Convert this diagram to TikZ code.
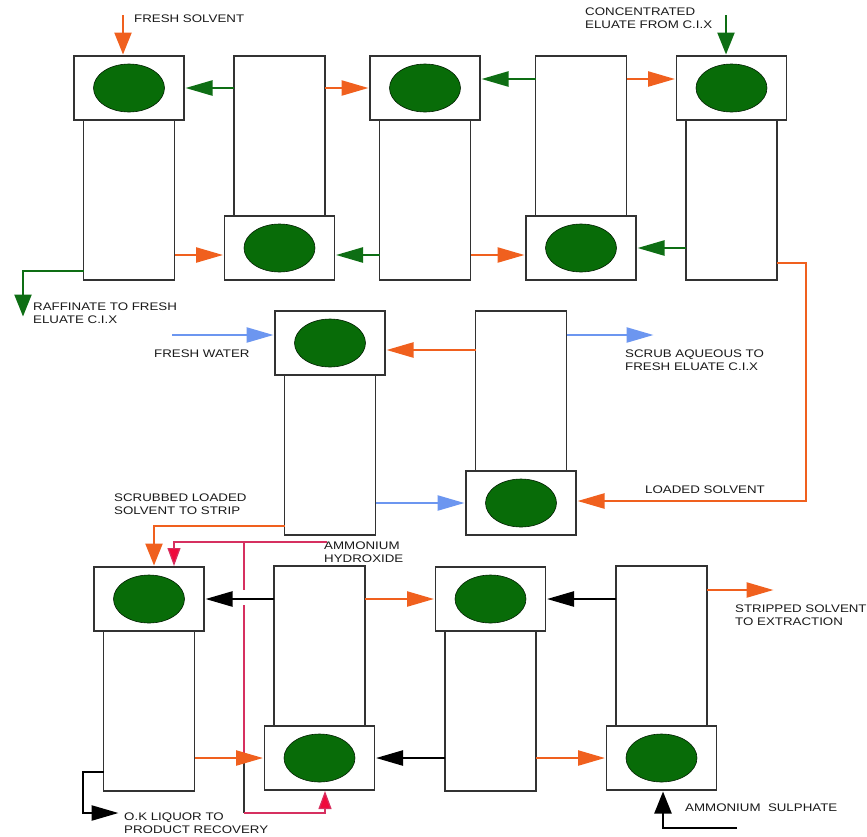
\documentclass[tikz,border=0pt]{standalone}
\usepackage{fontspec}
\setmainfont[FakeStretch=1.21]{Liberation Sans}
\usetikzlibrary{calc,arrows.meta,shapes.geometric}
\definecolor{dropgreen}{RGB}{8,108,8}
\definecolor{flowgreen}{RGB}{14,110,20}
\definecolor{floworange}{RGB}{240,96,30}
\definecolor{flowblue}{RGB}{108,150,240}
\definecolor{flowred}{RGB}{240,10,60}
\definecolor{linered}{RGB}{214,48,96}
\definecolor{boxline}{RGB}{50,50,50}
\tikzset{
  mixbox/.style={draw=boxline,fill=white,line width=1.2pt,minimum width=110pt,minimum height=64pt,inner sep=0pt,outer sep=0pt},
  settlerbox/.style={draw=boxline,fill=white,line width=1.2pt,minimum width=91pt,minimum height=160pt,inner sep=0pt,outer sep=0pt},
  dropnode/.style={ellipse,draw=black!70!dropgreen,fill=dropgreen,line width=0.6pt,minimum width=71pt,minimum height=48pt,inner sep=0pt},
  flow/.style={line width=2.4pt,-{Triangle[length=27pt,width=15pt]},shorten >=1.5pt},
  downflow/.style={line width=2.4pt,-{Triangle[length=22pt,width=17pt]},shorten >=1.5pt},
  greenflow/.style={flow,draw=flowgreen},
  orangeflow/.style={flow,draw=floworange},
  blueflow/.style={flow,draw=flowblue},
  blackflow/.style={flow,draw=black},
  redline/.style={line width=1.2pt,draw=linered},
  redflow/.style={redline,-{Triangle[length=18pt,width=13pt,fill=flowred]},shorten >=1pt},
  streamlabel/.style={anchor=west,align=left,inner sep=0pt,text=black!90,font=\fontsize{11}{13}\selectfont},
}
% mixer on top of its settler
\newcommand\DrawTopUnit[3]{
  \node[settlerbox,anchor=north] (set#1) at (#2,#3+32) {};
  \node[mixbox] (mix#1) at (#2,#3) {};
  \node[dropnode] (drop#1) at (mix#1) {};
}
% mixer below its settler
\newcommand\DrawBottomUnit[3]{
  \node[settlerbox,anchor=south] (set#1) at (#2,#3-32) {};
  \node[mixbox] (mix#1) at (#2,#3) {};
  \node[dropnode] (drop#1) at (mix#1) {};
}
\begin{document}
\begin{tikzpicture}[x=1pt,y=-1pt]
	\useasboundingbox (0,0) rectangle (867,836);

	% the units
	\DrawTopUnit{1}{129}{88}
	\DrawBottomUnit{2}{279.5}{248}
	\DrawTopUnit{3}{425}{88}
	\DrawBottomUnit{4}{581}{248}
	\DrawTopUnit{5}{731.5}{88}
	\DrawTopUnit{6}{330}{343}
	\DrawBottomUnit{7}{521}{503}
	\DrawTopUnit{8}{149}{599}
	\DrawBottomUnit{9}{319.5}{758}
	\DrawTopUnit{10}{490.5}{599}
	\DrawBottomUnit{11}{661.5}{758}

	% free ends of the streams
	\coordinate (solventin) at (123,15);
	\coordinate (eluatein) at (726,15);
	\coordinate (raffinatebend) at (23,271);
	\coordinate (raffinateout) at (23,318);
	\coordinate (loadedtop) at (806,263);
	\coordinate (loadedbottom) at (806,501);
	\coordinate (waterin) at (172,335);
	\coordinate (scrubout) at (655,335);
	\coordinate (scrubbedbend) at (154,526);
	\coordinate (strippedout) at (775,590);
	\coordinate (liquortop) at (83,772);
	\coordinate (liquorbottom) at (83,813);
	\coordinate (liquorout) at (120,813);
	\coordinate (sulphatein) at (737,828);
	\coordinate (sulphatebend) at (663,828);
	\coordinate (ammoniain) at (327,542);
	\coordinate (ammoniabranch) at (244,542);
	\coordinate (ammoniaturn) at (174,542);
	\coordinate (ammoniagapa) at (244,590);
	\coordinate (ammoniagapb) at (244,605);
	\coordinate (ammonialow) at (244,813);
	\coordinate (ammoniaend) at (325,813);

	% the ammonia line, broken where it passes the black arrow
	\draw[redflow] (ammoniain) -- (ammoniaturn) -- (ammoniaturn |- mix8.north);
	\draw[redline] (ammoniabranch) -- (ammoniagapa);
	\draw[redline] (ammoniagapb) -- (ammonialow |- mix9.west);
	\draw[redline,draw=boxline] (ammonialow |- mix9.west) -- (ammonialow);
	\draw[redflow] (ammonialow) -- (ammoniaend) -- (ammoniaend |- mix9.south);

	% flows between neighbouring units
	\foreach \From/\To/\Shift/\Flow in {1/2/-7/orangeflow,2/3/0/orangeflow,3/4/-7/orangeflow,4/5/9/orangeflow,
	  6/7/0/blueflow,8/9/0/orangeflow,9/10/0/orangeflow,10/11/0/orangeflow}{
	  \path ([yshift=\Shift pt]mix\To.west) coordinate (head);
	  \draw[\Flow] (set\From.east |- head) -- (head);
	}
	\foreach \From/\To/\Shift/\Flow in {2/1/0/greenflow,3/2/-7/greenflow,4/3/9/greenflow,5/4/0/greenflow,
	  7/6/-7/orangeflow,9/8/0/blackflow,10/9/0/blackflow,11/10/0/blackflow}{
	  \path ([yshift=\Shift pt]mix\To.east) coordinate (head);
	  \draw[\Flow] (set\From.west |- head) -- (head);
	}

	% the streams
	\draw[orangeflow,downflow] (solventin) -- (solventin |- mix1.north);
	\draw[greenflow,downflow] (eluatein) -- (eluatein |- mix5.north);
	\draw[greenflow,downflow] (set1.west |- raffinatebend) -- (raffinatebend) -- (raffinateout);
	\draw[orangeflow] (set5.east |- loadedtop) -- (loadedtop) -- (loadedbottom) -- (mix7.east |- loadedbottom);
	\draw[blueflow] (waterin) -- (mix6.west |- waterin);
	\draw[blueflow] (set7.east |- scrubout) -- (scrubout);
	\draw[orangeflow,downflow] (set6.west |- scrubbedbend) -- (scrubbedbend) -- (scrubbedbend |- mix8.north);
	\draw[orangeflow] (set11.east |- strippedout) -- (strippedout);
	\draw[blackflow] (set8.west |- liquortop) -- (liquortop) -- (liquorbottom) -- (liquorout);
	\draw[blackflow,downflow] (sulphatein) -- (sulphatebend) -- (sulphatebend |- mix11.south);

	% the labels
	\node[streamlabel] (solventlabel) at (134,19) {FRESH SOLVENT};
	\node[streamlabel] (eluatelabel) at (585,18.5) {CONCENTRATED\\ELUATE FROM C.I.X};
	\node[streamlabel] (raffinatelabel) at (33,313) {RAFFINATE TO FRESH\\ELUATE C.I.X};
	\node[streamlabel] (waterlabel) at (154,354) {FRESH WATER};
	\node[streamlabel] (scrublabel) at (625,360.5) {SCRUB AQUEOUS TO\\FRESH ELUATE C.I.X};
	\node[streamlabel] (loadedlabel) at (645,490) {LOADED SOLVENT};
	\node[streamlabel] (scrubbedlabel) at (114,504.5) {SCRUBBED LOADED\\SOLVENT TO STRIP};
	\node[streamlabel] (ammonialabel) at (324,552.5) {AMMONIUM\\HYDROXIDE};
	\node[streamlabel] (strippedlabel) at (735,615.5) {STRIPPED SOLVENT\\TO EXTRACTION};
	\node[streamlabel] (liquorlabel) at (124,823.5) {O.K LIQUOR TO\\PRODUCT RECOVERY};
	\node[streamlabel] (sulphatelabel) at (685,808) {AMMONIUM\ \ SULPHATE};
\end{tikzpicture}
\end{document}
